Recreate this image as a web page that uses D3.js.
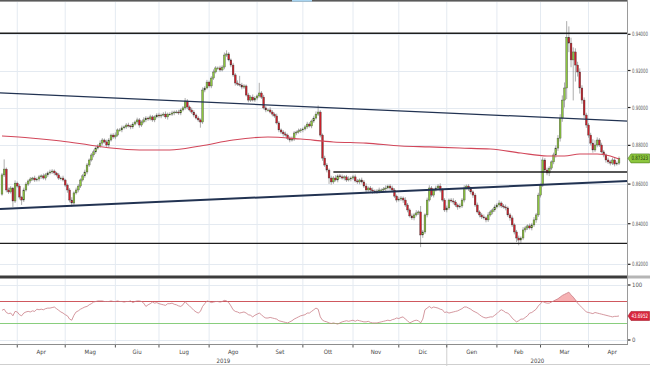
<!DOCTYPE html>
<html>
<head>
<meta charset="utf-8">
<script src="https://cdn.jsdelivr.net/npm/d3@7"></script>
<style>
  html, body { margin: 0; padding: 0; background: #fff; }
  svg { display: block; font-family: "Liberation Sans Narrow", "DejaVu Sans Condensed", "Arial Narrow", sans-serif; }
</style>
</head>
<body>
<svg id="chart" width="650" height="366"></svg>
<script>
// daily candles, weekdays only, 21 Mar 2019 -> 21 Apr 2020
const firstDay = new Date(2019, 2, 21);
const lastDay = new Date(2020, 3, 21);

// prices in 1/10000
const firstOpen = 8549;
const closes = [
  8647,8677,8570,8560,8580,8514,8605,8590,8534,8519,8570,8600,8616,8626,8631,8621,8626,8637,8642,8631,
  8647,8657,8662,8667,8657,8647,8631,8631,8621,8595,8570,8519,8504,8555,8570,8590,8621,8642,8662,8698,
  8724,8750,8766,8786,8797,8812,8828,8818,8802,8828,8854,8844,8854,8881,8881,8892,8897,8907,8902,8897,
  8912,8923,8934,8907,8923,8934,8944,8939,8950,8934,8950,8960,8955,8960,8965,8950,8965,8965,8971,8976,
  8976,8971,8987,8998,9035,9003,8987,8976,8960,8944,8934,8923,9094,9105,9137,9116,9159,9192,9214,9214,
  9203,9219,9285,9291,9258,9230,9176,9132,9126,9121,9110,9116,9067,9040,9056,9040,9051,9062,9078,9056,
  8998,8987,8987,8976,8965,8955,8918,8881,8870,8860,8854,8838,8828,8833,8865,8870,8876,8881,8886,8897,
  8912,8902,8928,8944,8965,8976,8854,8734,8698,8672,8631,8611,8631,8621,8642,8637,8631,8637,8621,8626,
  8631,8637,8616,8611,8621,8611,8590,8570,8580,8570,8565,8560,8565,8570,8570,8575,8580,8590,8580,8570,
  8539,8519,8524,8529,8519,8494,8469,8439,8429,8444,8454,8459,8344,8359,8444,8519,8580,8544,8570,8580,
  8590,8570,8519,8469,8479,8519,8514,8509,8494,8484,8489,8519,8580,8590,8575,8560,8544,8494,8459,8444,
  8434,8429,8419,8444,8459,8469,8484,8494,8504,8489,8484,8479,8444,8429,8394,8359,8329,8319,8329,8369,
  8379,8389,8379,8394,8419,8444,8544,8595,8724,8672,8657,8682,8714,8750,8786,8838,8944,9040,9105,9384,
  9351,9258,9302,9230,9192,9105,9040,8960,8907,8854,8812,8776,8802,8828,8802,8766,8750,8724,8714,8708,
  8724,8703,8708,8732
];
// wick length above / below the body, in 1/10000
const wickUp = [
  10,50,8,12,10,6,14,8,10,6,12,10,8,10,6,12,8,10,8,12,
  10,8,12,10,8,6,10,8,12,6,8,10,14,8,12,10,8,10,12,10,
  8,10,12,8,10,14,10,8,12,10,8,10,14,8,10,12,8,10,12,8,
  10,8,12,10,8,14,10,8,12,10,8,10,12,8,10,14,8,10,12,8,
  10,12,8,10,16,10,8,12,10,8,10,8,14,10,12,8,10,14,10,8,
  12,10,14,20,10,8,12,10,14,45,12,10,8,12,10,14,10,8,55,10,
  12,10,8,14,10,8,12,10,8,10,12,8,10,14,10,8,12,10,8,10,
  12,10,8,12,14,35,10,8,12,10,8,12,10,14,8,10,12,8,10,14,
  8,10,12,10,8,12,10,14,8,10,12,8,10,12,8,10,14,8,10,12,
  10,8,12,10,8,14,10,8,12,10,14,8,30,10,8,12,14,10,8,12,
  10,14,8,10,12,8,10,14,10,8,12,10,14,8,10,12,8,10,12,8,
  10,12,8,14,10,8,12,10,14,8,10,12,8,10,12,8,10,12,8,14,
  10,8,12,10,14,10,12,8,14,10,12,10,8,12,14,16,20,25,30,90,
  60,30,25,20,18,20,15,14,12,10,12,20,25,14,10,12,10,8,12,10,
  12,10,8,10
];
const wickDown = [
  8,10,12,10,8,30,10,8,12,25,10,8,10,12,8,10,8,12,10,8,
  12,10,8,10,12,8,10,12,8,10,14,12,20,10,8,12,10,8,10,12,
  10,8,12,10,8,10,12,8,10,14,8,10,12,8,10,12,8,10,8,12,
  10,8,12,14,10,8,12,10,8,10,12,8,10,12,8,10,14,8,10,12,
  8,10,12,8,10,12,8,10,12,8,10,30,10,12,8,10,12,10,8,12,
  10,8,12,10,8,12,10,14,10,8,12,10,8,12,10,8,10,12,8,10,
  8,12,10,8,12,10,8,12,10,14,8,10,12,8,10,12,8,10,12,8,
  10,8,12,10,8,10,12,14,10,12,30,14,10,8,12,10,8,12,10,8,
  12,10,8,10,12,8,10,12,8,10,14,8,10,12,8,10,12,8,10,12,
  10,12,8,10,14,10,12,8,10,12,8,10,60,14,10,12,8,10,12,8,
  10,12,8,10,12,10,8,12,10,14,8,10,12,8,10,12,14,10,8,12,
  10,8,12,10,8,12,10,8,12,10,8,12,10,14,10,12,20,26,14,10,
  12,10,8,12,10,14,10,12,10,14,12,16,10,12,14,15,18,20,40,60,
  50,40,220,90,25,30,20,18,15,14,12,14,10,12,10,8,12,14,10,12,
  10,12,8,10
];

// 200-day moving average, read at a few candles
const maIdx = [0,13,27,40,50,63,77,91,106,122,137,152,167,183,196,210,224,238,250,258,265,273,279,283];
const maVals = [8849,8839,8823,8802,8786,8776,8776,8797,8828,8844,8833,8818,8812,8797,8792,8786,8781,8760,8745,8745,8755,8755,8745,8729];

// RSI(14)
const rsi = [
  54,56,50,48,49,44,52,51,46,44,49,51,52,51,53,52,56,55,56,55,
  57,58,58,59,60,57,54,51,49,46,44,38,36,45,51,53,56,58,60,61,
  64,66,69,70,71,71,71,70,70,70,71,70,70,71,70,70,69,70,70,71,
  68,70,71,71,70,67,61,64,66,69,67,68,66,65,64,63,66,66,67,65,
  64,62,61,64,70,65,62,58,54,51,49,52,61,66,71,70,68,69,70,70,
  69,70,72,71,68,62,55,52,51,49,50,51,49,46,45,42,45,47,49,46,
  42,40,40,41,40,39,38,35,34,33,32,31,33,35,38,40,42,44,45,46,
  49,49,52,55,58,56,42,36,34,33,31,30,31,30,29,31,33,34,35,34,
  35,36,34,36,35,34,33,33,34,32,31,31,31,32,33,34,35,36,35,37,
  38,40,39,41,42,38,35,31,33,35,36,35,31,38,55,58,61,58,60,59,
  58,56,55,50,51,49,50,51,52,53,55,57,60,60,58,56,53,51,49,46,
  43,41,40,41,42,42,45,48,52,55,53,50,49,45,40,36,33,35,38,38,
  41,44,49,50,53,56,62,66,70,68,67,67,69,71,73,75,78,81,83,85,
  87,82,78,73,67,63,59,55,51,50,49,48,50,49,48,47,46,45,44,43,
  42,43,43,43.7
];

const monthLabels = ['Apr','Mag','Giu','Lug','Ago','Set','Ott','Nov','Dic','Gen','Feb','Mar','Apr'];
const yearLabels = ['2019','2020'];
const priceTicks = [0.82, 0.84, 0.86, 0.88, 0.90, 0.92, 0.94];
const rsiTicks = [0, 100];
const rsiUpper = 70, rsiLower = 30;
// horizontal levels: price, first candle index
const levels = [[0.9406, 0], [0.8303, 0], [0.8662, 152]];
// trend lines: price at first candle, price at last candle, stroke width
const trends = [[0.9078, 0.8930, 1.3], [0.8474, 0.8614, 2]];
const lastPrice = 0.87323;
const lastRsi = 43.6952;

const PIP = 1e-4;
const plotR = 628;
const mainTop = 2, mainBottom = 276;
const rsiTop = 279, rsiBottom = 344;

const svg = d3.select('#chart');

const days = d3.timeDay.range(firstDay, d3.timeDay.offset(lastDay, 1))
  .filter(d => d.getDay() % 6 !== 0);
const x = d3.scaleBand().domain(days).range([0.9, 620.1]);
const bw = x.bandwidth();
const cx = i => x(days[i]) + bw / 2;

const y = d3.scaleLog().domain([0.82, 0.94]).range([264.3, 34.3]);
const yR = d3.scaleLinear().domain([0, 100]).range([340, 285]);

const candles = days.map((d, i) => {
  const o = (i ? closes[i - 1] : firstOpen) * PIP;
  const c = closes[i] * PIP;
  return {
    i, o, c,
    h: Math.max(o, c) + wickUp[i] * PIP,
    l: Math.min(o, c) - wickDown[i] * PIP
  };
});

// clip paths
const defs = svg.append('defs');
defs.append('clipPath').attr('id', 'clipMain')
  .append('rect').attr('x', 0).attr('y', mainTop).attr('width', plotR).attr('height', mainBottom - mainTop);
defs.append('clipPath').attr('id', 'clipRsi')
  .append('rect').attr('x', 0).attr('y', rsiTop).attr('width', plotR).attr('height', rsiBottom - rsiTop);

// month ticks
const monthStarts = d3.timeMonth.range(new Date(2019, 3, 1), new Date(2020, 4, 1));
const tickX = monthStarts.map(m => cx(days.findIndex(d => d >= m)));
const spacing = (tickX[tickX.length - 1] - tickX[0]) / (tickX.length - 1);
const yearSplit = tickX[monthStarts.findIndex(m => m.getFullYear() === 2020)];

// grid
const grid = svg.append('g').attr('stroke', '#e4eaf1').attr('stroke-width', 1);
tickX.forEach(tx => {
  grid.append('line').attr('x1', tx).attr('x2', tx).attr('y1', mainTop).attr('y2', mainBottom);
  grid.append('line').attr('x1', tx).attr('x2', tx).attr('y1', rsiTop).attr('y2', rsiBottom);
});
priceTicks.forEach(p => {
  grid.append('line').attr('x1', 0).attr('x2', plotR).attr('y1', Math.round(y(p)) + 0.5).attr('y2', Math.round(y(p)) + 0.5);
});
rsiTicks.forEach(v => {
  grid.append('line').attr('x1', 0).attr('x2', plotR).attr('y1', Math.round(yR(v)) + 0.5).attr('y2', Math.round(yR(v)) + 0.5);
});

// candles
const main = svg.append('g').attr('clip-path', 'url(#clipMain)');
const cg = main.append('g').attr('class', 'candles');
cg.selectAll('line.wick')
  .data(candles)
  .enter().append('line')
  .attr('class', 'wick')
  .attr('x1', d => cx(d.i)).attr('x2', d => cx(d.i))
  .attr('y1', d => y(d.h)).attr('y2', d => y(d.l))
  .attr('stroke', '#8a8a8a').attr('stroke-width', 0.7);
cg.selectAll('rect.body')
  .data(candles)
  .enter().append('rect')
  .attr('class', 'body')
  .attr('x', d => cx(d.i) - 0.9)
  .attr('width', 1.8)
  .attr('y', d => y(Math.max(d.o, d.c)))
  .attr('height', d => Math.max(0.8, Math.abs(y(d.o) - y(d.c))))
  .attr('fill', d => d.c >= d.o ? '#8cc63e' : '#c8202a')
  .attr('stroke', '#3a3a3a')
  .attr('stroke-width', 0.35);

// moving average
const ma = maIdx.map((k, j) => [cx(k), y(maVals[j] * PIP)]);
main.append('path')
  .attr('d', d3.line().curve(d3.curveMonotoneX)(ma))
  .attr('fill', 'none')
  .attr('stroke', '#d2475a')
  .attr('stroke-width', 1.1);

// levels and trend lines
levels.forEach(([p, from]) => {
  main.append('line')
    .attr('x1', from ? cx(from) : 0).attr('x2', plotR)
    .attr('y1', y(p)).attr('y2', y(p))
    .attr('stroke', '#1e1e1e').attr('stroke-width', 1.3);
});
trends.forEach(([p0, p1, sw]) => {
  const x0 = cx(0), x1 = cx(days.length - 1);
  const y0 = y(p0), y1 = y(p1);
  const k = (y1 - y0) / (x1 - x0);
  main.append('line')
    .attr('x1', 0).attr('y1', y0 - k * x0)
    .attr('x2', plotR).attr('y2', y0 + k * (plotR - x0))
    .attr('stroke', '#223352').attr('stroke-width', sw);
});

// RSI pane
const rg = svg.append('g').attr('clip-path', 'url(#clipRsi)');
rg.append('path')
  .attr('d', d3.area()
    .x((d, i) => cx(i))
    .y0(yR(rsiUpper))
    .y1(d => yR(Math.max(d, rsiUpper)))(rsi))
  .attr('fill', '#f4a3a6').attr('opacity', 0.85);
rg.append('line').attr('x1', 0).attr('x2', plotR).attr('y1', yR(rsiUpper)).attr('y2', yR(rsiUpper))
  .attr('stroke', '#c9454c').attr('stroke-width', 0.9);
rg.append('line').attr('x1', 0).attr('x2', plotR).attr('y1', yR(rsiLower)).attr('y2', yR(rsiLower))
  .attr('stroke', '#7cc86e').attr('stroke-width', 0.9);
rg.append('path')
  .attr('d', d3.line().x((d, i) => cx(i)).y(d => yR(d))(rsi))
  .attr('fill', 'none').attr('stroke', '#c97d86').attr('stroke-width', 0.8);

// frame
svg.append('rect').attr('x', 0).attr('y', 0).attr('width', plotR).attr('height', 1.6).attr('fill', '#5a5a5a');
svg.append('rect').attr('x', 292).attr('y', 0).attr('width', 20).attr('height', 1.6).attr('fill', '#a8d4f0');
svg.append('rect').attr('x', 0).attr('y', 275.5).attr('width', plotR).attr('height', 3).attr('fill', '#3c3c3c');
svg.append('rect').attr('x', plotR).attr('y', 275.5).attr('width', 650 - plotR).attr('height', 3).attr('fill', '#b5b5b5');
svg.append('line').attr('x1', plotR - 0.5).attr('x2', plotR - 0.5).attr('y1', 0).attr('y2', rsiBottom)
  .attr('stroke', '#9a9a9a').attr('stroke-width', 1);

// x axis
const xa = svg.append('g');
xa.append('line').attr('x1', 0).attr('x2', plotR).attr('y1', rsiBottom + 0.5).attr('y2', rsiBottom + 0.5)
  .attr('stroke', '#8d8d8d');
xa.append('line').attr('x1', 0).attr('x2', 650).attr('y1', 364.5).attr('y2', 364.5).attr('stroke', '#cfcfcf');
xa.append('line').attr('x1', yearSplit).attr('x2', yearSplit).attr('y1', rsiBottom + 1).attr('y2', 366)
  .attr('stroke', '#cfcfcf');
xa.selectAll('line.tick')
  .data(tickX)
  .enter().append('line')
  .attr('class', 'tick')
  .attr('x1', d => d).attr('x2', d => d)
  .attr('y1', rsiBottom + 1).attr('y2', rsiBottom + 3.5)
  .attr('stroke', '#555');
xa.selectAll('text.month')
  .data(monthLabels)
  .enter().append('text')
  .attr('class', 'month')
  .attr('x', (d, i) => tickX[i] + ((i < tickX.length - 1 ? tickX[i + 1] : tickX[i] + spacing) - tickX[i]) / 2)
  .attr('y', 353.5)
  .attr('text-anchor', 'middle')
  .attr('font-size', 6)
  .attr('fill', '#444')
  .text(d => d);
xa.selectAll('text.year')
  .data(yearLabels)
  .enter().append('text')
  .attr('class', 'year')
  .attr('x', (d, i) => i ? (yearSplit + plotR) / 2 : yearSplit / 2)
  .attr('y', 362.5)
  .attr('text-anchor', 'middle')
  .attr('font-size', 6)
  .attr('fill', '#444')
  .text(d => d);

// right axis
const ya = svg.append('g');
// squeeze a label horizontally so it fits the narrow axis column
function narrowText (g, tx, ty, txt, maxW, fill) {
  const t = g.append('text')
    .attr('dy', '0.35em')
    .attr('font-size', 6)
    .attr('fill', fill)
    .text(txt);
  const w = t.node().getComputedTextLength();
  const s = Math.min(1, maxW / w);
  t.attr('transform', `translate(${tx},${ty}) scale(${s},1)`);
  return t;
}
const axisLabel = (yy, txt) => {
  ya.append('line').attr('x1', plotR).attr('x2', plotR + 2.5).attr('y1', yy).attr('y2', yy)
    .attr('stroke', '#222').attr('stroke-width', 1.2);
  narrowText(ya, plotR + 4, yy, txt, 16, '#555');
};
priceTicks.forEach(p => axisLabel(y(p), p.toFixed(5)));
rsiTicks.forEach(v => axisLabel(yR(v), String(v)));

// last value tags
const tag = (yy, fill, stroke, txtFill, txt) => {
  ya.append('path')
    .attr('d', `M${plotR},${yy} L${plotR + 3},${yy - 4.5} H649.5 V${yy + 4.5} H${plotR + 3} Z`)
    .attr('fill', fill).attr('stroke', stroke).attr('stroke-width', 0.6);
  narrowText(ya, plotR + 3.5, yy, txt, 16.5, txtFill);
};
tag(y(lastPrice), '#8cc63e', '#4d7c1f', '#1d3308', lastPrice.toFixed(5));
tag(yR(lastRsi), '#d9263d', '#a51828', '#fff', lastRsi.toFixed(4));
</script>
</body>
</html>
